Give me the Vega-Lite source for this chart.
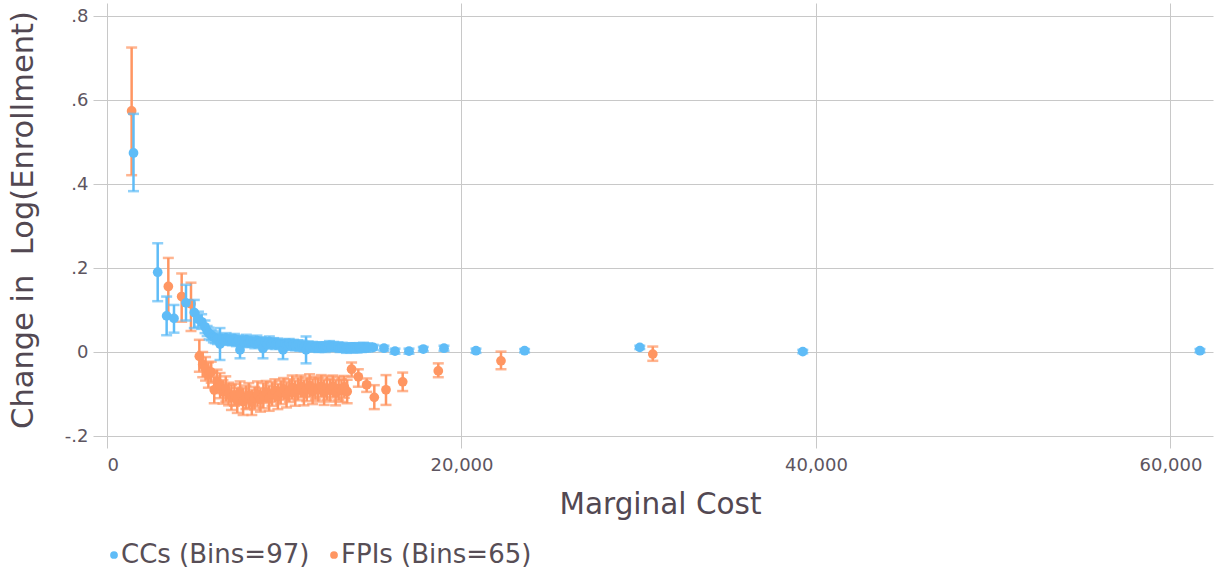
{
  "$schema": "https://vega.github.io/schema/vega-lite/v6.json",
  "autosize": {"type": "none"},
  "padding": {"left": 107, "top": 3, "right": 2, "bottom": 135},
  "width": 1106,
  "height": 433,
  "background": "white",
  "datasets": {
    "bins": [
      {"g": "FPIs (Bins=65)", "x": 1390, "y": 0.574, "lo": 0.421, "hi": 0.725},
      {"g": "FPIs (Bins=65)", "x": 3460, "y": 0.156, "lo": 0.086, "hi": 0.224},
      {"g": "FPIs (Bins=65)", "x": 4213, "y": 0.132, "lo": 0.072, "hi": 0.187},
      {"g": "FPIs (Bins=65)", "x": 4739, "y": 0.115, "lo": 0.050, "hi": 0.165},
      {"g": "FPIs (Bins=65)", "x": 5210, "y": -0.010, "lo": -0.047, "hi": 0.029},
      {"g": "FPIs (Bins=65)", "x": 5400, "y": -0.030, "lo": -0.060, "hi": 0.000},
      {"g": "FPIs (Bins=65)", "x": 5560, "y": -0.040, "lo": -0.068, "hi": -0.012},
      {"g": "FPIs (Bins=65)", "x": 5720, "y": -0.055, "lo": -0.085, "hi": -0.025},
      {"g": "FPIs (Bins=65)", "x": 5880, "y": -0.048, "lo": -0.073, "hi": -0.023},
      {"g": "FPIs (Bins=65)", "x": 6050, "y": -0.090, "lo": -0.122, "hi": -0.058},
      {"g": "FPIs (Bins=65)", "x": 6210, "y": -0.070, "lo": -0.098, "hi": -0.042},
      {"g": "FPIs (Bins=65)", "x": 6380, "y": -0.080, "lo": -0.110, "hi": -0.050},
      {"g": "FPIs (Bins=65)", "x": 6540, "y": -0.095, "lo": -0.123, "hi": -0.067},
      {"g": "FPIs (Bins=65)", "x": 6700, "y": -0.088, "lo": -0.118, "hi": -0.058},
      {"g": "FPIs (Bins=65)", "x": 6860, "y": -0.100, "lo": -0.127, "hi": -0.073},
      {"g": "FPIs (Bins=65)", "x": 7020, "y": -0.108, "lo": -0.138, "hi": -0.078},
      {"g": "FPIs (Bins=65)", "x": 7190, "y": -0.102, "lo": -0.128, "hi": -0.076},
      {"g": "FPIs (Bins=65)", "x": 7350, "y": -0.115, "lo": -0.145, "hi": -0.085},
      {"g": "FPIs (Bins=65)", "x": 7510, "y": -0.098, "lo": -0.126, "hi": -0.070},
      {"g": "FPIs (Bins=65)", "x": 7680, "y": -0.118, "lo": -0.150, "hi": -0.086},
      {"g": "FPIs (Bins=65)", "x": 7840, "y": -0.108, "lo": -0.136, "hi": -0.080},
      {"g": "FPIs (Bins=65)", "x": 8000, "y": -0.104, "lo": -0.134, "hi": -0.074},
      {"g": "FPIs (Bins=65)", "x": 8170, "y": -0.120, "lo": -0.150, "hi": -0.090},
      {"g": "FPIs (Bins=65)", "x": 8330, "y": -0.110, "lo": -0.137, "hi": -0.083},
      {"g": "FPIs (Bins=65)", "x": 8490, "y": -0.100, "lo": -0.130, "hi": -0.070},
      {"g": "FPIs (Bins=65)", "x": 8660, "y": -0.114, "lo": -0.142, "hi": -0.086},
      {"g": "FPIs (Bins=65)", "x": 8820, "y": -0.104, "lo": -0.134, "hi": -0.074},
      {"g": "FPIs (Bins=65)", "x": 8980, "y": -0.095, "lo": -0.121, "hi": -0.069},
      {"g": "FPIs (Bins=65)", "x": 9150, "y": -0.110, "lo": -0.140, "hi": -0.080},
      {"g": "FPIs (Bins=65)", "x": 9310, "y": -0.100, "lo": -0.128, "hi": -0.072},
      {"g": "FPIs (Bins=65)", "x": 9470, "y": -0.092, "lo": -0.119, "hi": -0.065},
      {"g": "FPIs (Bins=65)", "x": 9640, "y": -0.106, "lo": -0.136, "hi": -0.076},
      {"g": "FPIs (Bins=65)", "x": 9800, "y": -0.096, "lo": -0.124, "hi": -0.068},
      {"g": "FPIs (Bins=65)", "x": 9960, "y": -0.088, "lo": -0.114, "hi": -0.062},
      {"g": "FPIs (Bins=65)", "x": 10130, "y": -0.102, "lo": -0.132, "hi": -0.072},
      {"g": "FPIs (Bins=65)", "x": 10290, "y": -0.092, "lo": -0.119, "hi": -0.065},
      {"g": "FPIs (Bins=65)", "x": 10450, "y": -0.084, "lo": -0.112, "hi": -0.056},
      {"g": "FPIs (Bins=65)", "x": 10620, "y": -0.098, "lo": -0.128, "hi": -0.068},
      {"g": "FPIs (Bins=65)", "x": 10780, "y": -0.088, "lo": -0.115, "hi": -0.061},
      {"g": "FPIs (Bins=65)", "x": 10940, "y": -0.082, "lo": -0.108, "hi": -0.056},
      {"g": "FPIs (Bins=65)", "x": 11110, "y": -0.097, "lo": -0.127, "hi": -0.067},
      {"g": "FPIs (Bins=65)", "x": 11270, "y": -0.089, "lo": -0.117, "hi": -0.061},
      {"g": "FPIs (Bins=65)", "x": 11430, "y": -0.080, "lo": -0.107, "hi": -0.053},
      {"g": "FPIs (Bins=65)", "x": 11600, "y": -0.094, "lo": -0.124, "hi": -0.064},
      {"g": "FPIs (Bins=65)", "x": 11760, "y": -0.086, "lo": -0.113, "hi": -0.059},
      {"g": "FPIs (Bins=65)", "x": 11920, "y": -0.090, "lo": -0.118, "hi": -0.062},
      {"g": "FPIs (Bins=65)", "x": 12090, "y": -0.081, "lo": -0.107, "hi": -0.055},
      {"g": "FPIs (Bins=65)", "x": 12250, "y": -0.096, "lo": -0.126, "hi": -0.066},
      {"g": "FPIs (Bins=65)", "x": 12410, "y": -0.086, "lo": -0.114, "hi": -0.058},
      {"g": "FPIs (Bins=65)", "x": 12580, "y": -0.091, "lo": -0.118, "hi": -0.064},
      {"g": "FPIs (Bins=65)", "x": 12740, "y": -0.082, "lo": -0.108, "hi": -0.056},
      {"g": "FPIs (Bins=65)", "x": 12900, "y": -0.097, "lo": -0.127, "hi": -0.067},
      {"g": "FPIs (Bins=65)", "x": 13070, "y": -0.087, "lo": -0.115, "hi": -0.059},
      {"g": "FPIs (Bins=65)", "x": 13230, "y": -0.092, "lo": -0.119, "hi": -0.065},
      {"g": "FPIs (Bins=65)", "x": 13390, "y": -0.083, "lo": -0.109, "hi": -0.057},
      {"g": "FPIs (Bins=65)", "x": 13550, "y": -0.094, "lo": -0.122, "hi": -0.066},
      {"g": "FPIs (Bins=65)", "x": 13800, "y": -0.041, "lo": -0.059, "hi": -0.025},
      {"g": "FPIs (Bins=65)", "x": 14180, "y": -0.059, "lo": -0.083, "hi": -0.041},
      {"g": "FPIs (Bins=65)", "x": 14650, "y": -0.078, "lo": -0.095, "hi": -0.063},
      {"g": "FPIs (Bins=65)", "x": 15081, "y": -0.108, "lo": -0.136, "hi": -0.079},
      {"g": "FPIs (Bins=65)", "x": 15741, "y": -0.090, "lo": -0.126, "hi": -0.055},
      {"g": "FPIs (Bins=65)", "x": 16683, "y": -0.071, "lo": -0.093, "hi": -0.049},
      {"g": "FPIs (Bins=65)", "x": 18691, "y": -0.045, "lo": -0.060, "hi": -0.027},
      {"g": "FPIs (Bins=65)", "x": 22229, "y": -0.021, "lo": -0.041, "hi": 0.001},
      {"g": "FPIs (Bins=65)", "x": 30793, "y": -0.005, "lo": -0.021, "hi": 0.013},

      {"g": "CCs (Bins=97)", "x": 1495, "y": 0.474, "lo": 0.383, "hi": 0.567},
      {"g": "CCs (Bins=97)", "x": 2860, "y": 0.190, "lo": 0.121, "hi": 0.259},
      {"g": "CCs (Bins=97)", "x": 3365, "y": 0.086, "lo": 0.040, "hi": 0.132},
      {"g": "CCs (Bins=97)", "x": 3780, "y": 0.080, "lo": 0.046, "hi": 0.112},
      {"g": "CCs (Bins=97)", "x": 4457, "y": 0.117, "lo": 0.075, "hi": 0.160},
      {"g": "CCs (Bins=97)", "x": 4925, "y": 0.094, "lo": 0.057, "hi": 0.124},
      {"g": "CCs (Bins=97)", "x": 5160, "y": 0.078, "lo": 0.060, "hi": 0.096},
      {"g": "CCs (Bins=97)", "x": 5340, "y": 0.072, "lo": 0.055, "hi": 0.090},
      {"g": "CCs (Bins=97)", "x": 5530, "y": 0.060, "lo": 0.045, "hi": 0.075},
      {"g": "CCs (Bins=97)", "x": 5650, "y": 0.050, "lo": 0.038, "hi": 0.062},
      {"g": "CCs (Bins=97)", "x": 5760, "y": 0.044, "lo": 0.030, "hi": 0.058},
      {"g": "CCs (Bins=97)", "x": 5880, "y": 0.040, "lo": 0.028, "hi": 0.052},
      {"g": "CCs (Bins=97)", "x": 6000, "y": 0.036, "lo": 0.023, "hi": 0.049},
      {"g": "CCs (Bins=97)", "x": 6110, "y": 0.033, "lo": 0.021, "hi": 0.045},
      {"g": "CCs (Bins=97)", "x": 6230, "y": 0.030, "lo": 0.019, "hi": 0.041},
      {"g": "CCs (Bins=97)", "x": 6375, "y": 0.019, "lo": -0.019, "hi": 0.057},
      {"g": "CCs (Bins=97)", "x": 6480, "y": 0.031, "lo": 0.020, "hi": 0.042},
      {"g": "CCs (Bins=97)", "x": 6600, "y": 0.028, "lo": 0.018, "hi": 0.038},
      {"g": "CCs (Bins=97)", "x": 6720, "y": 0.033, "lo": 0.021, "hi": 0.045},
      {"g": "CCs (Bins=97)", "x": 6840, "y": 0.027, "lo": 0.017, "hi": 0.037},
      {"g": "CCs (Bins=97)", "x": 6950, "y": 0.030, "lo": 0.019, "hi": 0.041},
      {"g": "CCs (Bins=97)", "x": 7070, "y": 0.026, "lo": 0.016, "hi": 0.036},
      {"g": "CCs (Bins=97)", "x": 7190, "y": 0.031, "lo": 0.019, "hi": 0.043},
      {"g": "CCs (Bins=97)", "x": 7300, "y": 0.024, "lo": 0.014, "hi": 0.034},
      {"g": "CCs (Bins=97)", "x": 7420, "y": 0.028, "lo": 0.017, "hi": 0.039},
      {"g": "CCs (Bins=97)", "x": 7504, "y": 0.005, "lo": -0.015, "hi": 0.025},
      {"g": "CCs (Bins=97)", "x": 7620, "y": 0.027, "lo": 0.017, "hi": 0.037},
      {"g": "CCs (Bins=97)", "x": 7740, "y": 0.023, "lo": 0.012, "hi": 0.034},
      {"g": "CCs (Bins=97)", "x": 7860, "y": 0.029, "lo": 0.017, "hi": 0.041},
      {"g": "CCs (Bins=97)", "x": 7980, "y": 0.022, "lo": 0.012, "hi": 0.032},
      {"g": "CCs (Bins=97)", "x": 8100, "y": 0.026, "lo": 0.015, "hi": 0.037},
      {"g": "CCs (Bins=97)", "x": 8220, "y": 0.024, "lo": 0.014, "hi": 0.034},
      {"g": "CCs (Bins=97)", "x": 8340, "y": 0.020, "lo": 0.009, "hi": 0.031},
      {"g": "CCs (Bins=97)", "x": 8460, "y": 0.027, "lo": 0.015, "hi": 0.039},
      {"g": "CCs (Bins=97)", "x": 8580, "y": 0.021, "lo": 0.011, "hi": 0.031},
      {"g": "CCs (Bins=97)", "x": 8700, "y": 0.024, "lo": 0.013, "hi": 0.035},
      {"g": "CCs (Bins=97)", "x": 8800, "y": 0.008, "lo": -0.015, "hi": 0.031},
      {"g": "CCs (Bins=97)", "x": 8920, "y": 0.023, "lo": 0.013, "hi": 0.033},
      {"g": "CCs (Bins=97)", "x": 9040, "y": 0.019, "lo": 0.008, "hi": 0.030},
      {"g": "CCs (Bins=97)", "x": 9160, "y": 0.025, "lo": 0.013, "hi": 0.037},
      {"g": "CCs (Bins=97)", "x": 9280, "y": 0.020, "lo": 0.010, "hi": 0.030},
      {"g": "CCs (Bins=97)", "x": 9400, "y": 0.022, "lo": 0.011, "hi": 0.033},
      {"g": "CCs (Bins=97)", "x": 9520, "y": 0.017, "lo": 0.007, "hi": 0.027},
      {"g": "CCs (Bins=97)", "x": 9640, "y": 0.021, "lo": 0.010, "hi": 0.032},
      {"g": "CCs (Bins=97)", "x": 9760, "y": 0.018, "lo": 0.008, "hi": 0.028},
      {"g": "CCs (Bins=97)", "x": 9930, "y": 0.005, "lo": -0.017, "hi": 0.027},
      {"g": "CCs (Bins=97)", "x": 10040, "y": 0.019, "lo": 0.008, "hi": 0.030},
      {"g": "CCs (Bins=97)", "x": 10160, "y": 0.016, "lo": 0.006, "hi": 0.026},
      {"g": "CCs (Bins=97)", "x": 10280, "y": 0.020, "lo": 0.009, "hi": 0.031},
      {"g": "CCs (Bins=97)", "x": 10400, "y": 0.015, "lo": 0.005, "hi": 0.025},
      {"g": "CCs (Bins=97)", "x": 10520, "y": 0.018, "lo": 0.007, "hi": 0.029},
      {"g": "CCs (Bins=97)", "x": 10640, "y": 0.014, "lo": 0.004, "hi": 0.024},
      {"g": "CCs (Bins=97)", "x": 10760, "y": 0.017, "lo": 0.006, "hi": 0.028},
      {"g": "CCs (Bins=97)", "x": 10880, "y": 0.013, "lo": 0.003, "hi": 0.023},
      {"g": "CCs (Bins=97)", "x": 11000, "y": 0.016, "lo": 0.005, "hi": 0.027},
      {"g": "CCs (Bins=97)", "x": 11120, "y": 0.012, "lo": 0.002, "hi": 0.022},
      {"g": "CCs (Bins=97)", "x": 11230, "y": 0.005, "lo": -0.027, "hi": 0.037},
      {"g": "CCs (Bins=97)", "x": 11350, "y": 0.015, "lo": 0.005, "hi": 0.025},
      {"g": "CCs (Bins=97)", "x": 11470, "y": 0.011, "lo": 0.002, "hi": 0.020},
      {"g": "CCs (Bins=97)", "x": 11590, "y": 0.014, "lo": 0.004, "hi": 0.024},
      {"g": "CCs (Bins=97)", "x": 11710, "y": 0.010, "lo": 0.001, "hi": 0.019},
      {"g": "CCs (Bins=97)", "x": 11830, "y": 0.013, "lo": 0.003, "hi": 0.023},
      {"g": "CCs (Bins=97)", "x": 11950, "y": 0.009, "lo": 0.000, "hi": 0.018},
      {"g": "CCs (Bins=97)", "x": 12070, "y": 0.012, "lo": 0.002, "hi": 0.022},
      {"g": "CCs (Bins=97)", "x": 12190, "y": 0.014, "lo": 0.005, "hi": 0.023},
      {"g": "CCs (Bins=97)", "x": 12310, "y": 0.010, "lo": 0.000, "hi": 0.020},
      {"g": "CCs (Bins=97)", "x": 12430, "y": 0.013, "lo": 0.004, "hi": 0.022},
      {"g": "CCs (Bins=97)", "x": 12550, "y": 0.016, "lo": 0.006, "hi": 0.026},
      {"g": "CCs (Bins=97)", "x": 12670, "y": 0.012, "lo": 0.003, "hi": 0.021},
      {"g": "CCs (Bins=97)", "x": 12790, "y": 0.014, "lo": 0.004, "hi": 0.024},
      {"g": "CCs (Bins=97)", "x": 12910, "y": 0.011, "lo": 0.002, "hi": 0.020},
      {"g": "CCs (Bins=97)", "x": 13030, "y": 0.013, "lo": 0.003, "hi": 0.023},
      {"g": "CCs (Bins=97)", "x": 13150, "y": 0.009, "lo": 0.000, "hi": 0.018},
      {"g": "CCs (Bins=97)", "x": 13270, "y": 0.012, "lo": 0.002, "hi": 0.022},
      {"g": "CCs (Bins=97)", "x": 13390, "y": 0.010, "lo": 0.001, "hi": 0.019},
      {"g": "CCs (Bins=97)", "x": 13510, "y": 0.008, "lo": -0.002, "hi": 0.018},
      {"g": "CCs (Bins=97)", "x": 13630, "y": 0.011, "lo": 0.002, "hi": 0.020},
      {"g": "CCs (Bins=97)", "x": 13750, "y": 0.009, "lo": -0.001, "hi": 0.019},
      {"g": "CCs (Bins=97)", "x": 13870, "y": 0.012, "lo": 0.003, "hi": 0.021},
      {"g": "CCs (Bins=97)", "x": 13990, "y": 0.010, "lo": 0.000, "hi": 0.020},
      {"g": "CCs (Bins=97)", "x": 14110, "y": 0.008, "lo": -0.001, "hi": 0.017},
      {"g": "CCs (Bins=97)", "x": 14230, "y": 0.011, "lo": 0.001, "hi": 0.021},
      {"g": "CCs (Bins=97)", "x": 14350, "y": 0.009, "lo": 0.000, "hi": 0.018},
      {"g": "CCs (Bins=97)", "x": 14470, "y": 0.012, "lo": 0.002, "hi": 0.022},
      {"g": "CCs (Bins=97)", "x": 14590, "y": 0.010, "lo": 0.001, "hi": 0.019},
      {"g": "CCs (Bins=97)", "x": 14710, "y": 0.011, "lo": 0.001, "hi": 0.021},
      {"g": "CCs (Bins=97)", "x": 15024, "y": 0.011, "lo": 0.005, "hi": 0.017},
      {"g": "CCs (Bins=97)", "x": 15628, "y": 0.009, "lo": 0.003, "hi": 0.015},
      {"g": "CCs (Bins=97)", "x": 16248, "y": 0.002, "lo": -0.004, "hi": 0.008},
      {"g": "CCs (Bins=97)", "x": 17038, "y": 0.002, "lo": -0.004, "hi": 0.008},
      {"g": "CCs (Bins=97)", "x": 17845, "y": 0.007, "lo": 0.002, "hi": 0.012},
      {"g": "CCs (Bins=97)", "x": 19013, "y": 0.009, "lo": 0.003, "hi": 0.015},
      {"g": "CCs (Bins=97)", "x": 20818, "y": 0.003, "lo": -0.002, "hi": 0.008},
      {"g": "CCs (Bins=97)", "x": 23560, "y": 0.003, "lo": -0.001, "hi": 0.007},
      {"g": "CCs (Bins=97)", "x": 30060, "y": 0.011, "lo": 0.007, "hi": 0.015},
      {"g": "CCs (Bins=97)", "x": 39256, "y": 0.001, "lo": -0.003, "hi": 0.005},
      {"g": "CCs (Bins=97)", "x": 61664, "y": 0.003, "lo": -0.001, "hi": 0.007}
    ]
  },
  "data": {"name": "bins"},
  "encoding": {
    "x": {
      "field": "x",
      "type": "quantitative",
      "scale": {"domain": [0, 62400], "nice": false, "zero": false},
      "axis": {
        "title": "Marginal Cost",
        "titleFontSize": 29.5,
        "values": [0, 20000, 40000, 60000],
        "format": ",d",
        "tickSize": 12,
        "labelPadding": 8,
        "titlePadding": 16
      }
    },
    "color": {
      "field": "g",
      "type": "nominal",
      "scale": {
        "domain": ["CCs (Bins=97)", "FPIs (Bins=65)"],
        "range": ["#5fbcf7", "#ff9662"]
      },
      "legend": {
        "title": null,
        "orient": "none",
        "legendX": -6,
        "legendY": 539,
        "direction": "horizontal",
        "symbolType": "circle",
        "symbolSize": 60,
        "symbolOpacity": 1,
        "symbolStrokeWidth": 0,
        "labelFont": "DejaVu Sans",
        "labelFontSize": 26,
        "labelLimit": 0,
        "labelColor": "#574e56",
        "labelOffset": -6,
        "columnPadding": 11
      }
    }
  },
  "layer": [
    {
      "transform": [{"filter": "datum.g === 'FPIs (Bins=65)'"}],
      "mark": {"type": "errorbar", "thickness": 2.5, "ticks": {"size": 11, "thickness": 2.5}},
      "encoding": {
        "y": {
          "field": "lo",
          "type": "quantitative",
          "title": "Change in \u00a0Log(Enrollment)",
          "scale": {"domain": [-0.2, 0.831], "nice": false, "zero": false},
          "axis": {
            "values": [-0.2, 0, 0.2, 0.4, 0.6, 0.8],
            "labelExpr": "datum.value == 0 ? '0' : (datum.value < 0 ? '-' : '') + replace(format(abs(datum.value), '.1f'), '0.', '.')",
            "tickSize": 14,
            "labelPadding": 5,
            "titleFontSize": 30.5,
            "titlePadding": 26
          }
        },
        "y2": {"field": "hi"}
      }
    },
    {
      "transform": [{"filter": "datum.g === 'FPIs (Bins=65)'"}],
      "mark": {"type": "circle", "size": 95, "opacity": 1},
      "encoding": {"y": {"field": "y", "type": "quantitative", "title": "Change in \u00a0Log(Enrollment)"}}
    },
    {
      "transform": [{"filter": "datum.g === 'CCs (Bins=97)'"}],
      "mark": {"type": "errorbar", "thickness": 2.5, "ticks": {"size": 11, "thickness": 2.5}},
      "encoding": {
        "y": {"field": "lo", "type": "quantitative", "title": "Change in \u00a0Log(Enrollment)"},
        "y2": {"field": "hi"}
      }
    },
    {
      "transform": [{"filter": "datum.g === 'CCs (Bins=97)'"}],
      "mark": {"type": "circle", "size": 95, "opacity": 1},
      "encoding": {"y": {"field": "y", "type": "quantitative", "title": "Change in \u00a0Log(Enrollment)"}}
    }
  ],
  "resolve": {"scale": {"y": "shared"}},
  "config": {
    "view": {"stroke": null},
    "axis": {
      "domain": false,
      "gridColor": "#c8c8c8",
      "gridWidth": 1,
      "tickColor": "#c8c8c8",
      "tickWidth": 1,
      "labelFont": "DejaVu Sans",
      "labelFontSize": 18,
      "labelColor": "#5d5560",
      "titleFont": "DejaVu Sans",
      "titleFontSize": 29,
      "titleFontWeight": "normal",
      "titleColor": "#524852"
    }
  }
}
